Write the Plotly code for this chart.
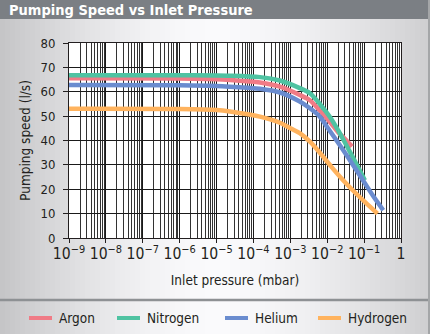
import plotly.graph_objects as go

# Pumping speed (l/s) versus inlet pressure (mbar) for four gases
argon_p = [1e-9, 1e-6, 1e-5, 2.3e-5, 1.5e-4, 5.2e-4, 1.8e-3, 3.4e-3, 6.3e-3, 1.2e-2, 2.0e-2, 3.2e-2, 4.7e-2]
argon_s = [65.5, 65.4, 65.1, 64.8, 63.8, 62.1, 58.7, 56.5, 52.3, 47.5, 43.3, 40.3, 37.5]

nitrogen_p = [1e-9, 1e-6, 1e-5, 2.3e-5, 1.5e-4, 5.2e-4, 1.8e-3, 3.4e-3, 6.3e-3, 1.2e-2, 2.0e-2, 2.7e-2, 4.6e-2, 1.05e-1]
nitrogen_s = [66.8, 66.8, 66.7, 66.6, 66.0, 64.6, 61.5, 59.4, 55.0, 49.5, 44.0, 40.5, 34.0, 23.7]

helium_p = [1e-9, 1e-6, 1e-5, 2.3e-5, 1.5e-4, 5.2e-4, 1.8e-3, 3.4e-3, 6.3e-3, 1.05e-2, 2.7e-2, 9.3e-2, 1.8e-1, 3.3e-1]
helium_s = [62.8, 62.7, 62.4, 62.1, 61.2, 59.7, 56.0, 53.2, 49.8, 45.0, 36.1, 23.7, 17.0, 11.4]

hydrogen_p = [1e-9, 1e-6, 1e-5, 2.3e-5, 1.5e-4, 5.2e-4, 1e-3, 1.8e-3, 3.4e-3, 6.3e-3, 1.3e-2, 2.7e-2, 5.0e-2, 1.05e-1, 2.3e-1]
hydrogen_s = [53.0, 52.9, 52.5, 51.9, 49.8, 47.3, 45.0, 43.0, 39.5, 35.0, 29.2, 23.7, 19.5, 14.8, 10.0]

gas_names = ["Argon", "Nitrogen", "Helium", "Hydrogen"]
gas_colors = ["#f07b86", "#4fc3a2", "#6a8ccf", "#ffb35e"]
gas_data = [(argon_p, argon_s), (nitrogen_p, nitrogen_s), (helium_p, helium_s), (hydrogen_p, hydrogen_s)]

speed_ticks = [0, 10, 20, 30, 40, 50, 60, 70, 80]

W, H = 430, 334
ML, MR, MT, MB = 69, 29, 43, 96
PW, PH = W - ML - MR, H - MT - MB

FONT = "DejaVu Sans Condensed, DejaVu Sans, sans-serif"
INK = "#231f20"


def px_x(x):
    return (x - ML) / PW


def px_y(y):
    return (H - MB - y) / PH


fig = go.Figure()
for name, (p, s), color in zip(gas_names, gas_data, gas_colors):
    fig.add_trace(go.Scatter(
        x=p, y=s, name=name, mode="lines", showlegend=False,
        line=dict(color=color, width=4.5, shape="spline", smoothing=0.8),
    ))

shapes = []
annotations = []
# soft grey-white-grey page background
n_strips = 86
sw = W / n_strips
for i in range(n_strips):
    xc = (i + 0.5) * sw
    if xc < 215:
        t = (215 - xc) / 215
        v = 250 - (250 - 196) * t ** 1.6
    else:
        t = (xc - 215) / 215
        v = 250 - (250 - 206) * t ** 1.6
    v = int(round(v))
    shapes.append(dict(
        type="rect", xref="paper", yref="paper", layer="below",
        x0=px_x(i * sw), x1=px_x((i + 1) * sw + 0.6), y0=px_y(H + 2), y1=px_y(-2),
        fillcolor=f"rgb({v},{v},{v + 2})", line=dict(width=0),
    ))
# white plotting area
shapes.append(dict(type="rect", xref="paper", yref="paper", layer="below",
                   x0=0, x1=1, y0=0, y1=1, fillcolor="white", line=dict(width=0)))
# title bar
shapes.append(dict(type="rect", xref="paper", yref="paper", layer="below",
                   x0=px_x(-1), x1=px_x(428), y0=px_y(19), y1=px_y(-1),
                   fillcolor="#7b7f84", line=dict(width=0)))
# separator above the key
shapes.append(dict(type="line", xref="paper", yref="paper", layer="below",
                   x0=px_x(0), x1=px_x(428), y0=px_y(300), y1=px_y(300),
                   line=dict(color="#8e9194", width=2.5)))
# right page edge
shapes.append(dict(type="line", xref="paper", yref="paper", layer="below",
                   x0=px_x(429), x1=px_x(429), y0=px_y(H), y1=px_y(0),
                   line=dict(color="#a4a6a8", width=2)))

# key: coloured bar followed by the gas name
key_x = [29, 117, 225, 318]
key_y = 318
for name, color, kx in zip(gas_names, gas_colors, key_x):
    shapes.append(dict(type="line", xref="paper", yref="paper",
                       x0=px_x(kx), x1=px_x(kx + 23), y0=px_y(key_y), y1=px_y(key_y),
                       line=dict(color=color, width=4)))
    annotations.append(dict(text=name, xref="paper", yref="paper",
                            x=px_x(kx + 28), y=px_y(key_y), xanchor="left", yanchor="middle",
                            showarrow=False, font=dict(size=13.5, color=INK)))

fig.update_layout(
    width=W, height=H,
    margin=dict(l=ML, r=MR, t=MT, b=MB, pad=0),
    paper_bgcolor="#e6e7e8",
    plot_bgcolor="white",
    shapes=shapes,
    annotations=annotations,
    font=dict(family=FONT, color=INK, size=12.5),
    title=dict(
        text="<b>Pumping Speed vs Inlet Pressure</b>",
        font=dict(family=FONT, size=14.5, color="white"),
        xref="container", yref="container",
        x=9 / W, xanchor="left", y=1 - 10 / H, yanchor="middle",
    ),
    xaxis=dict(
        type="log", range=[-9, 0], dtick=1, exponentformat="power",
        showgrid=True, gridcolor="#1a1a1a", gridwidth=1,
        minor=dict(showgrid=True, gridcolor="#333333", gridwidth=1, ticks=""),
        ticks="outside", ticklen=4, tickcolor=INK,
        showline=True, linecolor=INK, linewidth=1, mirror=True,
        tickfont=dict(size=12.5), ticklabelstandoff=-2,
        title=dict(text="Inlet pressure (mbar)", font=dict(size=13.5), standoff=13),
        automargin=False, zeroline=False,
    ),
    yaxis=dict(
        range=[0, 80], tickvals=speed_ticks,
        showgrid=True, gridcolor="#1a1a1a", gridwidth=1,
        ticks="outside", ticklen=5, tickcolor=INK,
        showline=True, linecolor=INK, linewidth=1, mirror=True,
        tickfont=dict(size=13), ticklabelstandoff=5,
        title=dict(text="Pumping speed (l/s)", font=dict(size=13.5), standoff=6),
        automargin=False, zeroline=False,
    ),
    showlegend=False,
)

fig.write_html("out.html")
